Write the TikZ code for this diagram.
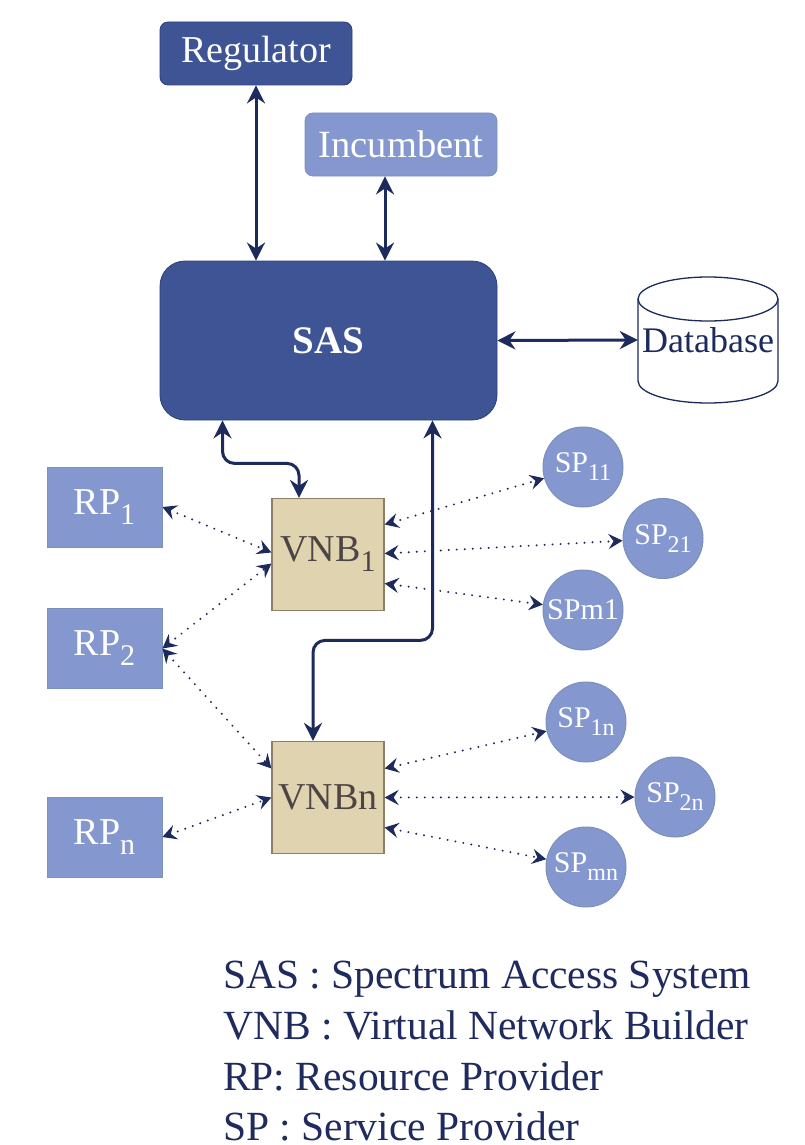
\documentclass[tikz,border=0pt]{standalone}
\usepackage{fontspec}
\setmainfont{Liberation Serif}
\usetikzlibrary{arrows.meta,calc}

\definecolor{navy}{HTML}{1C2A5C}
\definecolor{darkfill}{HTML}{3F5495}
\definecolor{darkedge}{HTML}{2E3F7C}
\definecolor{lightfill}{HTML}{8497CF}
\definecolor{lightedge}{HTML}{7C90BC}
\definecolor{tanfill}{HTML}{E0D4B0}
\definecolor{tanedge}{HTML}{8C7F66}
\definecolor{vnbtext}{HTML}{4D4545}
\definecolor{legendtext}{HTML}{1F2B5E}

% lowered subscript: #1 drop, #2 size, #3 text
\newcommand\lowsub[3]{\raisebox{-#1}{\fontsize{#2}{#2}\selectfont #3}}

\tikzset{
  fs/.style={font=\fontsize{#1}{#1}\selectfont},
  darkbox/.style={draw=darkedge, line width=0.8pt, fill=darkfill, text=white,
    rounded corners=8pt, inner sep=0pt},
  lightbox/.style={draw=lightedge, line width=0.8pt, fill=lightfill, text=white, inner sep=0pt},
  vnbbox/.style={draw=tanedge, line width=1.2pt, fill=tanfill, text=vnbtext, inner sep=0pt,
    minimum width=112pt, minimum height=112pt, fs=38},
  rpbox/.style={lightbox, minimum width=115pt, minimum height=80pt, fs=38},
  spnode/.style={circle, draw=lightedge, line width=1pt, fill=lightfill, text=white,
    inner sep=0pt, minimum size=80pt, fs=30},
  conn/.style={draw=navy, line width=3pt,
    {Stealth[length=18pt,width=18pt,inset=6pt]}-{Stealth[length=18pt,width=18pt,inset=6pt]}},
  dotconn/.style={draw=navy, line width=2.2pt, line cap=round, dash pattern=on 0pt off 8pt,
    {Stealth[length=14pt,width=15pt,inset=5pt]}-{Stealth[length=14pt,width=15pt,inset=5pt]}},
  legend/.style={anchor=base west, text=legendtext, fs=41.5, inner sep=0pt},
}

\begin{document}
\begin{tikzpicture}[x=1pt,y=-1pt]
\path[use as bounding box] (0,0) rectangle (805,1145);

% top-level entities
\node[darkbox, minimum width=192pt, minimum height=63pt, fs=38] (reg) at (256,53.5) {Regulator};
\node[lightbox, rounded corners=8pt, minimum width=192pt, minimum height=63pt, fs=38.5] (inc) at (401,144.5) {Incumbent};
\node[darkbox, rounded corners=25pt, minimum width=337pt, minimum height=159pt,
  font=\fontsize{39}{39}\selectfont\bfseries] (sas) at (328.5,340.5) {SAS};

% database cylinder outline
\draw[navy, line width=1.3pt, fill=white]
  (638,299) -- (638,381) arc[start angle=180, end angle=360, x radius=70pt, y radius=22pt]
  -- (778,299);
\draw[navy, line width=1.3pt] (708,299) circle[x radius=70pt, y radius=22pt];
\node[inner sep=0pt, minimum width=140pt, minimum height=126pt, text=navy, fs=36] (db) at (708,340) {Database};

% virtual network builders
\node[vnbbox] (vnb1) at (328,554.5) {VNB\lowsub{10pt}{30}{1}};
\node[vnbbox] (vnbn) at (328,797.5) {VNBn};

% resource providers
\node[rpbox] (rp1) at (104.5,507) {RP\lowsub{10pt}{30}{1}};
\node[rpbox] (rp2) at (104.5,648.5) {RP\lowsub{10pt}{30}{2}};
\node[rpbox] (rpn) at (104.5,837) {RP\lowsub{10pt}{30}{n}};

% service providers
\node[spnode] (sp11) at (583,467) {SP\lowsub{8pt}{24}{11}};
\node[spnode] (sp21) at (663,538.5) {SP\lowsub{8pt}{24}{21}};
\node[spnode] (spm1) at (583,610) {SPm1};
\node[spnode] (sp1n) at (586,722) {SP\lowsub{8pt}{24}{1n}};
\node[spnode] (sp2n) at (675,797) {SP\lowsub{8pt}{24}{2n}};
\node[spnode] (spmn) at (586,867) {SP\lowsub{8pt}{24}{mn}};

% control links
\coordinate (incb) at ([xshift=-16pt]inc.south);
\draw[conn] (reg.south) -- (reg.south |- sas.north);
\draw[conn] (incb) -- (incb |- sas.north);
\draw[conn] (sas.east) -- (db.west);
\draw[conn, rounded corners=12pt] ([xshift=-106pt]sas.south) -- ++(0,43) -| ([xshift=-29pt]vnb1.north);
\draw[conn, rounded corners=12pt] ([xshift=104pt]sas.south) -- ++(0,220) -| ([xshift=-15pt]vnbn.north);

% resource provider links
\draw[dotconn] (rp1.east) -- ([yshift=2pt]vnb1.west);
\draw[dotconn] (rp2.east) -- ([yshift=-9pt]vnb1.west);
\draw[dotconn] (rp2.east) -- ([yshift=29pt]vnbn.west);
\draw[dotconn] (rpn.east) -- (vnbn.west);

% service provider links
\draw[dotconn] ([yshift=30pt]vnb1.east) -- (sp11);
\draw[dotconn] ([yshift=1pt]vnb1.east) -- (sp21);
\draw[dotconn] ([yshift=-29pt]vnb1.east) -- (spm1);
\draw[dotconn] ([yshift=29pt]vnbn.east) -- (sp1n);
\draw[dotconn] (vnbn.east) -- (sp2n);
\draw[dotconn] ([yshift=-30pt]vnbn.east) -- (spmn);

% legend
\node[legend] (leg1) at (223,988) {SAS : Spectrum Access System};
\node[legend] (leg2) at (223,1039) {VNB : Virtual Network Builder};
\node[legend] (leg3) at (223,1090) {RP: Resource Provider};
\node[legend] (leg4) at (223,1140) {SP : Service Provider};
\end{tikzpicture}
\end{document}
